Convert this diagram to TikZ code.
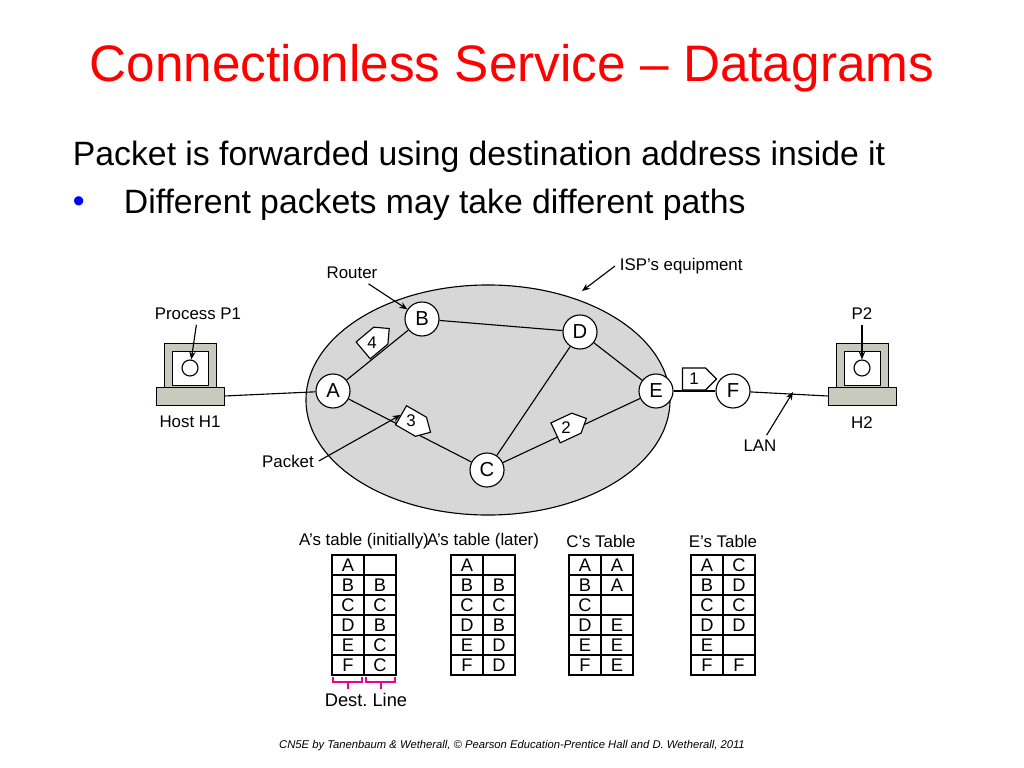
\documentclass[tikz,border=0pt]{standalone}
\usepackage{fontspec}
\setmainfont{Liberation Sans}
\usetikzlibrary{calc,positioning,shapes}
\usetikzlibrary{arrows.meta}
\tikzset{>={Stealth[width=1.6mm,length=2mm]}}
\definecolor{ispgray}{RGB}{215,215,215}
\definecolor{pcgray}{RGB}{200,202,190}

\begin{document}
\begin{tikzpicture}[x=0.025cm,y=-0.025cm]
          \tikzstyle{rnode} = [draw, thick, circle, fill=white, minimum size=0.85cm, inner sep=0pt, font=\Large]
          \tikzstyle{pkt} = [draw, thick, fill=white, signal, signal to=east, inner sep=2pt, minimum height=0.55cm, minimum width=0.85cm, font=\large]
          \tikzstyle{lbl} = [font=\fontsize{12}{14}\selectfont]
          \tikzstyle{cell} = [draw, line width=1.3pt, minimum width=0.8cm, minimum height=0.5cm, inner sep=0pt, font=\fontsize{13}{15}\selectfont]
          \useasboundingbox (0,0) rectangle (1024,768);

          \node[text=red, font=\fontsize{36.5}{40}\selectfont] (title) at (512,68) {Connectionless Service -- Datagrams};
          \node[anchor=west, font=\fontsize{24}{28}\selectfont] (l1) at (68,157) {Packet is forwarded using destination address inside it};
          \node[anchor=west, text=blue, font=\fontsize{24}{28}\selectfont] (bul) at (68,205) {\textbullet};
          \node[anchor=west, font=\fontsize{24}{28}\selectfont] (l2) at (119,205) {Different packets may take different paths};

          % ISP cloud
          \node[draw, thick, ellipse, fill=ispgray, minimum width=9.1cm, minimum height=5.75cm] (isp) at (488,400) {};

          \node[rnode] (A) at (333,391) {A};
          \node[rnode] (B) at (422,319) {B};
          \node[rnode] (D) at (580,332) {D};
          \node[rnode] (E) at (656,391) {E};
          \node[rnode] (C) at (487,470) {C};
          \node[rnode] (F) at (733,391) {F};

          % hosts
          \foreach \h/\x in {h1/190, h2/862} {
            \node[draw, fill=pcgray, minimum width=1.3cm, minimum height=1.25cm] (\h m) at (\x,368) {};
            \node[draw, fill=white, minimum width=0.9cm, minimum height=0.85cm] (\h s) at (\x,368) {};
            \node[draw, thick, circle, minimum size=0.4cm] (\h c) at (\x,368) {};
            \node[draw, fill=pcgray, minimum width=1.7cm, minimum height=0.45cm] (\h b) at (\x,396) {};
          }
          \node[lbl] (p1) at (198,314) {Process P1};
          \node[lbl] (hh1) at (190,422) {Host H1};
          \node[lbl] (p2) at (862,314) {P2};
          \node[lbl] (hh2) at (862,423) {H2};

          \draw[thick] (h1b.east) -- (A);
          \draw[thick] (A) -- (B);
          \draw[thick] (A) -- (C);
          \draw[thick] (B) -- (D);
          \draw[thick] (C) -- (D);
          \draw[thick] (C) -- (E);
          \draw[thick] (D) -- (E);
          \draw[thick] (E) -- (F);
          \draw[thick] (F) -- (h2b.west);

          % packets
          \node[pkt, rotate=40] (k4) at (372,343) {\rotatebox{-40}{4}};
          \node[pkt, rotate=-30] (k3) at (411,421) {\rotatebox{30}{3}};
          \node[pkt, rotate=25] (k2) at (566,428) {\rotatebox{-25}{2}};
          \node[pkt] (k1) at (694,379) {1};

          % callouts
          \node[lbl] (router) at (352,273) {Router};
          \node[lbl, anchor=west] (ispl) at (615,266) {ISP’s equipment};
          \node[lbl] (pktl) at (288,461) {Packet};
          \node[lbl] (lan) at (760,446) {LAN};
          \coordinate (ispe) at (582,291);
          \coordinate (lanp) at (793,392);
          \draw[->, thick] (router) -- (B);
          \draw[->, thick] (ispl.west) -- (ispe);
          \draw[->, thick] (pktl.east) -- (k3.west);
          \draw[->, thick] (lan) -- (lanp);
          \draw[->, thick] (p1) -- (h1c);
          \draw[->, thick] (p2) -- (h2c);

          % routing tables
          \foreach \t/\x/\ttl/\rows in {ai/364/A’s table (initially)/{A/,B/B,C/C,D/B,E/C,F/C},
                                        al/483/A’s table (later)/{A/,B/B,C/C,D/B,E/D,F/D},
                                        ct/601/C’s Table/{A/A,B/A,C/,D/E,E/E,F/E},
                                        et/723/E’s Table/{A/C,B/D,C/C,D/D,E/,F/F}} {
            \node[lbl] (\t h) at (\x,541) {\ttl};
            \foreach \d/\l [count=\i] in \rows {
              \node[cell] (\t d\i) at (\x-16,545+20*\i) {\d};
              \node[cell] (\t l\i) at (\x+16,545+20*\i) {\l};
            }
          }
          \draw[magenta, thick] (333,677) -- (333,682) -- (362,682) -- (362,677)
                (348,682) -- (348,689);
          \draw[magenta, thick] (366,677) -- (366,682) -- (395,682) -- (395,677)
                (381,682) -- (381,689);
          \node[font=\fontsize{13}{15}\selectfont] (dest) at (366,700) {Dest.~Line};

          \node[font=\fontsize{8}{10}\selectfont\itshape] (foot) at (512,746) {CN5E by Tanenbaum \& Wetherall, © Pearson Education-Prentice Hall and D. Wetherall, 2011};
        \end{tikzpicture}
\end{document}
